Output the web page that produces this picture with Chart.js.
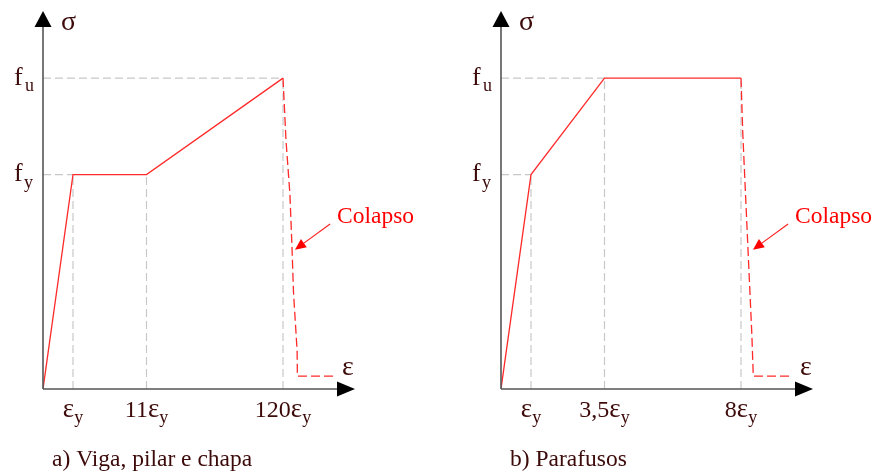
<!DOCTYPE html>
<html>
<head>
<meta charset="utf-8">
<script src="https://cdn.jsdelivr.net/npm/chart.js@4.4.0/dist/chart.umd.min.js"></script>
<style>
  html, body { margin: 0; background: #fff; }
  #wrap { position: relative; width: 877px; height: 472px; overflow: hidden; }
  canvas { position: absolute; top: 0; }
</style>
</head>
<body>
<div id="wrap">
  <canvas id="chartA" width="438" height="472" style="left:0"></canvas>
  <canvas id="chartB" width="439" height="472" style="left:438px"></canvas>
</div>
<script>
// schematic diagram: strain positions are not to scale, stress in units of fy
const tickPos = [1, 3.45, 8.0];
const tickPrefixA = ['', '11', '120'];   // shown before "εy"
const tickPrefixB = ['', '3,5', '8'];

const fyVal = 1;
const fuVal = 1.45;

const strainA = [0, 1, 3.45, 8.0];
const stressA = [0, 1, 1, 1.45];
const collapseStrainA = [8.0, 8.1, 8.23, 8.3, 8.35, 8.47, 8.48, 9.73];
const collapseStressA = [1.45, 1.16, 0.91, 0.66, 0.45, 0.18, 0.06, 0.06];

const strainB = [0, 1, 3.45, 8.0];
const stressB = [0, 1, 1.45, 1.45];
const collapseStrainB = [8.0, 8.06, 8.24, 8.36, 8.41, 9.69];
const collapseStressB = [1.45, 1.19, 0.63, 0.26, 0.06, 0.06];

const SERIF = '"Liberation Serif", "Times New Roman", serif';
const TEXT = '#3d0a0a';
const RED = '#ff2a2a';

function toPts(xs, ys) {
    return xs.map((v, i) => ({ x: v, y: ys[i] }));
}

// dashed grey guides from the axes to the corner points
function guides(xs, ys) {
    const pts = [];
    tickPos.forEach(t => {
        const i = xs.indexOf(t);
        pts.push({ x: t, y: 0 }, { x: t, y: ys[i] }, { x: t, y: null });
    });
    [fyVal, fuVal].forEach(lvl => {
        const i = ys.indexOf(lvl);
        pts.push({ x: 0, y: lvl }, { x: xs[i], y: lvl }, { x: 0, y: null });
    });
    return pts;
}

// draw text pieces one after another, centred on cx
function drawPieces(ctx, pieces, cx, base) {
    let w = 0;
    pieces.forEach(p => { ctx.font = p.font; p.w = ctx.measureText(p.t).width; w += p.w; });
    let x = cx - w / 2;
    ctx.textAlign = 'left';
    pieces.forEach(p => {
        ctx.font = p.font;
        ctx.fillText(p.t, x, base + (p.dy || 0));
        x += p.w;
    });
}

const sketchPlugin = {
    id: 'sketch',
    afterDatasetsDraw(chart, args, opts) {
        const ctx = chart.ctx;
        const xs = chart.scales.x, ys = chart.scales.y;
        const ox = xs.getPixelForValue(0), oy = ys.getPixelForValue(0);
        const top = chart.chartArea.top, right = chart.chartArea.right;
        ctx.save();

        // axes with arrow heads
        ctx.strokeStyle = '#555';
        ctx.lineWidth = 1.6;
        ctx.beginPath();
        ctx.moveTo(ox, oy); ctx.lineTo(ox, top + 14);
        ctx.moveTo(ox, oy); ctx.lineTo(right - 16, oy);
        ctx.stroke();
        ctx.fillStyle = '#000';
        ctx.beginPath();
        ctx.moveTo(ox, top); ctx.lineTo(ox - 8.5, top + 16); ctx.lineTo(ox + 8.5, top + 16);
        ctx.closePath(); ctx.fill();
        ctx.beginPath();
        ctx.moveTo(right, oy); ctx.lineTo(right - 18, oy - 7.5); ctx.lineTo(right - 18, oy + 7.5);
        ctx.closePath(); ctx.fill();

        ctx.fillStyle = TEXT;
        ctx.textBaseline = 'alphabetic';
        ctx.textAlign = 'left';
        ctx.font = '28px ' + SERIF;
        ctx.fillText('σ', ox + 18, top + 19);
        ctx.fillText('ε', right - 13, oy - 14);

        // stress labels
        const gu = ys.getPixelForValue(fuVal), gy = ys.getPixelForValue(fyVal);
        ctx.font = '26px ' + SERIF;
        ctx.fillText('f', ox - 29, gu + 7);
        ctx.fillText('f', ox - 29, gy + 6.5);
        ctx.font = '18px ' + SERIF;
        ctx.fillText('u', ox - 18, gu + 13);
        ctx.fillText('y', ox - 19, gy + 13);

        // strain tick labels
        tickPos.forEach((t, i) => {
            drawPieces(ctx, [
                { t: opts.prefix[i], font: '24px ' + SERIF },
                { t: 'ε', font: '27px ' + SERIF },
                { t: 'y', font: '18px ' + SERIF, dy: 6 }
            ], xs.getPixelForValue(t), oy + 28);
        });

        // caption
        ctx.font = '23.5px ' + SERIF;
        ctx.textAlign = 'left';
        ctx.fillText(opts.caption, ox + 9, 466);

        // "Colapso" annotation
        const tx = xs.getPixelForValue(8.4), ty = ys.getPixelForValue(0.65);
        const sx = xs.getPixelForValue(9.57), sy = ys.getPixelForValue(0.77);
        ctx.fillStyle = '#ff0000';
        ctx.font = '23.5px ' + SERIF;
        ctx.fillText('Colapso', xs.getPixelForValue(9.8), ys.getPixelForValue(0.774));
        ctx.strokeStyle = '#ff2020';
        ctx.lineWidth = 1.2;
        const ang = Math.atan2(ty - sy, tx - sx);
        const hx = tx - 11 * Math.cos(ang), hy = ty - 11 * Math.sin(ang);
        ctx.beginPath(); ctx.moveTo(sx, sy); ctx.lineTo(hx, hy); ctx.stroke();
        ctx.beginPath();
        ctx.moveTo(tx, ty);
        ctx.lineTo(hx + 5 * Math.sin(ang), hy - 5 * Math.cos(ang));
        ctx.lineTo(hx - 5 * Math.sin(ang), hy + 5 * Math.cos(ang));
        ctx.closePath(); ctx.fill();

        ctx.restore();
    }
};

function makeChart(id, padLeft, padRight, xs, ys, cxs, cys, prefix, caption) {
    const ctx = document.getElementById(id).getContext('2d');
    return new Chart(ctx, {
        type: 'line',
        data: {
            datasets: [
                { data: toPts(xs, ys), borderColor: RED, borderWidth: 1.3, order: 1 },
                { data: toPts(cxs, cys), borderColor: RED, borderWidth: 1.3, borderDash: [9, 4], order: 2 },
                { data: guides(xs, ys), borderColor: '#c8c8c8', borderWidth: 1.2, borderDash: [8, 4], spanGaps: false, order: 3 }
            ]
        },
        options: {
            responsive: false,
            animation: false,
            events: [],
            layout: { padding: { left: padLeft, right: padRight, top: 11, bottom: 83 } },
            elements: { point: { radius: 0 }, line: { tension: 0 } },
            plugins: {
                legend: { display: false },
                tooltip: { enabled: false },
                sketch: { prefix: prefix, caption: caption }
            },
            scales: {
                x: { type: 'linear', min: 0, max: 10.4, display: false },
                y: { type: 'linear', min: 0, max: 1.763, display: false }
            }
        },
        plugins: [sketchPlugin]
    });
}

makeChart('chartA', 43, 83, strainA, stressA, collapseStrainA, collapseStressA, tickPrefixA, 'a) Viga, pilar e chapa');
makeChart('chartB', 63, 64, strainB, stressB, collapseStrainB, collapseStressB, tickPrefixB, 'b) Parafusos');
</script>
</body>
</html>
